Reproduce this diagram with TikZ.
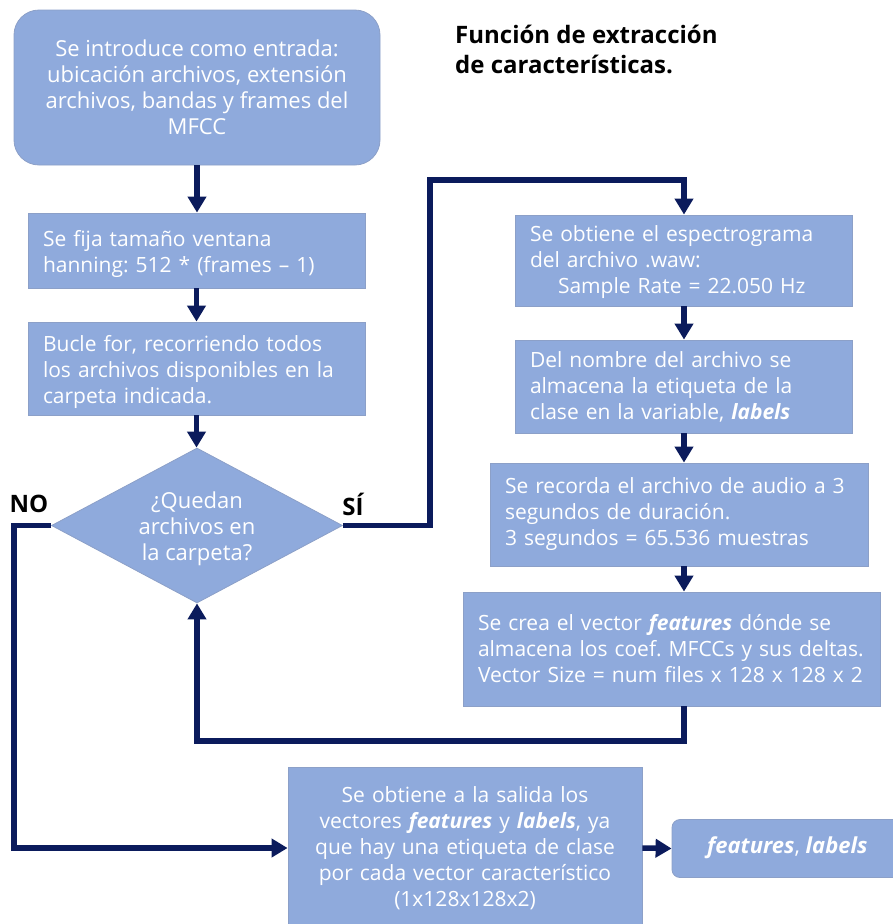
\documentclass[tikz,border=0pt]{standalone}
\usepackage{fontspec}
\setmainfont{Open Sans}
\usetikzlibrary{shapes.geometric,arrows.meta}
\definecolor{boxfill}{HTML}{8FAADC}
\definecolor{boxline}{HTML}{8CA0C8}
\definecolor{navy}{HTML}{0B1B5C}
\frenchspacing
\tikzset{
  txt/.style={font=\fontsize{21}{26}\selectfont},
  bigtxt/.style={font=\fontsize{22}{26}\selectfont},
  stepbox/.style={txt, rectangle, fill=boxfill, draw=boxline, line width=0.8pt,
    text=white, align=left, inner xsep=15pt, inner ysep=0pt},
  lowered/.style={execute at begin node={\rule{0pt}{#1}}},
  startbox/.style={bigtxt, rectangle, rounded corners=25pt, fill=boxfill, draw=boxline,
    line width=0.8pt, text=white, align=center, inner sep=0pt},
  decision/.style={diamond, fill=boxfill, draw=boxline, line width=0.8pt,
    inner sep=0pt, shape aspect=1.88},
  lbl/.style={font=\fontsize{24}{28}\selectfont\bfseries, text=black},
  arr/.style={navy, line width=5.5pt, -{Triangle[width=18pt,length=16pt]}},
}
\begin{document}
\begin{tikzpicture}[x=1pt,y=-1pt]
\useasboundingbox (0,0) rectangle (892,924);

% title
\node[anchor=north west, align=left, inner sep=0pt, text=black,
      font=\fontsize{24}{30}\selectfont\bfseries] (title) at (455,25)
  {Función de extracción\\de características.};

% left column
\node[startbox, minimum width=366pt, minimum height=155pt] (b1) at (197,87.5)
  {Se introduce como entrada:\\ubicación archivos, extensión\\archivos, bandas y frames del\\MFCC};
\node[stepbox, lowered=23pt, text width=307pt, minimum height=75pt] (b2) at (196.5,250.5)
  {Se fija tamaño ventana\\hanning: 512 * (frames – 1)};
\node[stepbox, lowered=23pt, text width=307pt, minimum height=93pt] (b3) at (196.5,368.5)
  {Bucle for, recorriendo todos\\los archivos disponibles en la\\carpeta indicada.};
\node[decision, minimum width=291pt, minimum height=155pt] (dec) at (197,525.5) {};
\node[bigtxt, text=white, align=center, inner sep=0pt] (dectxt) at (197,529)
  {¿Quedan\\archivos en\\la carpeta?};
\node[lbl] (no) at (29,504) {NO};
\node[lbl] (si) at (353,504) {SÍ};

% right column
\node[stepbox, lowered=20pt, text width=307pt, minimum height=91pt] (b4) at (683.5,260.5)
  {Se obtiene el espectrograma\\del archivo .waw:\\\hspace*{28pt}Sample Rate = 22.050 Hz};
\node[stepbox, text width=307pt, minimum height=93pt] (b5) at (683.5,386.5)
  {Del nombre del archivo se\\almacena la etiqueta de la\\clase en la variable, \textbf{\textit{labels}}};
\node[stepbox, text width=348pt, minimum height=103pt] (b6) at (679,514.5)
  {\mbox{Se recorda el archivo de audio a 3}\\segundos de duración.\\3 segundos = 65.536 muestras};
\node[stepbox, text width=387pt, minimum height=114pt] (b7) at (671.5,649)
  {\mbox{Se crea el vector \textbf{\textit{features}} dónde se}\\\mbox{almacena los coef. MFCCs y sus deltas.}\\\mbox{Vector Size = num files x 128 x 128 x 2}};

% output
\node[stepbox, align=center, text width=324pt, minimum height=162pt] (b8) at (465,848)
  {Se obtiene a la salida los\\vectores \textbf{\textit{features}} y \textbf{\textit{labels}}, ya\\que hay una etiqueta de clase\\por cada vector característico\\(1x128x128x2)};
\node[rectangle, rounded corners=8pt, fill=boxfill, draw=boxline, line width=0.8pt,
      minimum width=240pt, minimum height=58pt, inner sep=0pt] (fin) at (792,848.5) {};
\node[bigtxt, text=white, anchor=west, inner sep=0pt] (fintxt) at (707,848)
  {\textbf{\textit{features}}, \textbf{\textit{labels}}};

% connectors
\coordinate (siTop) at (430,180);
\coordinate (loopA) at (684,741);
\coordinate (noC) at (14,848);

\draw[arr] (b1.south) -- (b1.south |- b2.north);
\draw[arr] (b2.south) -- (b2.south |- b3.north);
\draw[arr] (b3.south) -- (b3.south |- dec.north);
\draw[arr] (dec.east) -- (dec.east -| siTop) -- (siTop) -- (siTop -| loopA) -- (loopA |- b4.north);
\draw[arr] (loopA |- b4.south) -- (loopA |- b5.north);
\draw[arr] (loopA |- b5.south) -- (loopA |- b6.north);
\draw[arr] (loopA |- b6.south) -- (loopA |- b7.north);
\draw[arr] (loopA |- b7.south) -- (loopA) -- (loopA -| dec.south) -- (dec.south);
\draw[arr] (dec.west) -- (dec.west -| noC) -- (noC) -- (b8.west);
\draw[arr] (b8.east) -- (fin.west);
\end{tikzpicture}
\end{document}
